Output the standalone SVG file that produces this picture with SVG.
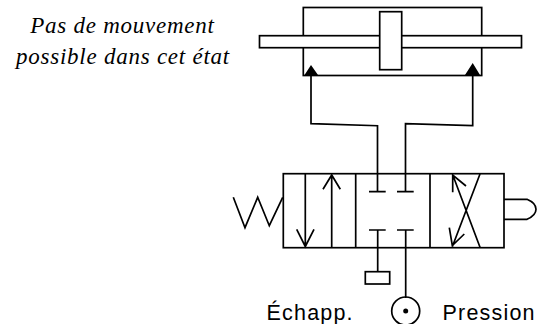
<svg xmlns="http://www.w3.org/2000/svg" width="545" height="324" viewBox="0 0 545 324">
<style>
.s{fill:none;stroke:#000;stroke-width:1.7;stroke-linejoin:miter}
.c{fill:#fff;stroke:#000;stroke-width:1.7}
.h{fill:#000;stroke:none}
.i{font-family:"Liberation Serif",serif;font-style:italic;font-size:23px;fill:#000;text-anchor:middle;letter-spacing:.75px}
.l{font-family:"Liberation Sans",sans-serif;font-size:21.5px;fill:#000;letter-spacing:1.2px}
</style>
<rect width="545" height="324" fill="#fff"/>
<g id="note"><text class="i" x="122.500" y="33">Pas de mouvement</text><text class="i" x="123" y="64">possible dans cet état</text></g>
<g id="connectors">
<path class="s" d="M311 75V123.700L377.500 125.700V192M472.700 75V125.700L405.500 123.700V192"/>
<path class="s" d="M377.700 230V271.700M405.700 230V298"/>
</g>
<g id="cylinder">
<rect class="s" x="303.300" y="7.500" width="178.400" height="68"/>
<rect class="c" x="259.500" y="35.700" width="262" height="12"/>
<rect class="c" x="379.700" y="11.700" width="22" height="58"/>
<path class="h" d="M311 65L318 75H304.500ZM472.700 63L480 75H465Z"/>
</g>
<g id="valve">
<rect class="s" x="283.300" y="173.700" width="220.700" height="74"/>
<path class="s" d="M355.700 173.700V247.700M430 173.700V247.700"/>
<path class="s" d="M305.300 174V247M296.700 229.300L305.300 246.500L314 229.300M331.700 247.700V174.500M323 189.300L331.700 175L340.300 189.300"/>
<path class="s" d="M369 191.700H385.700M397 191.700H413.700M369 230H385.700M397 230H413.700"/>
<path class="s" d="M452.700 174.700L480 247.300M452.700 192.300L452.700 175L466 186M480 174L452.300 246.700M449.300 227.700L452.300 245.500L464.300 234"/>
</g>
<g id="spring"><path class="s" d="M233.300 197.300L245 227.700L257.700 197.300L269.300 225.700L282.700 197.300"/></g>
<g id="button"><path class="s" d="M504 199.300H527Q536 203 536 209.300Q536 215.500 527 219.300H504"/></g>
<g id="exhaust"><rect class="s" x="365.300" y="271.700" width="24.400" height="12.300"/></g>
<g id="source"><circle class="s" cx="405.700" cy="311" r="14"/><circle class="h" cx="405.700" cy="311" r="2.500"/></g>
<g id="labels"><text class="l" x="266.500" y="319.500">Échapp.</text><text class="l" x="442.500" y="319.500">Pression</text></g>
</svg>
